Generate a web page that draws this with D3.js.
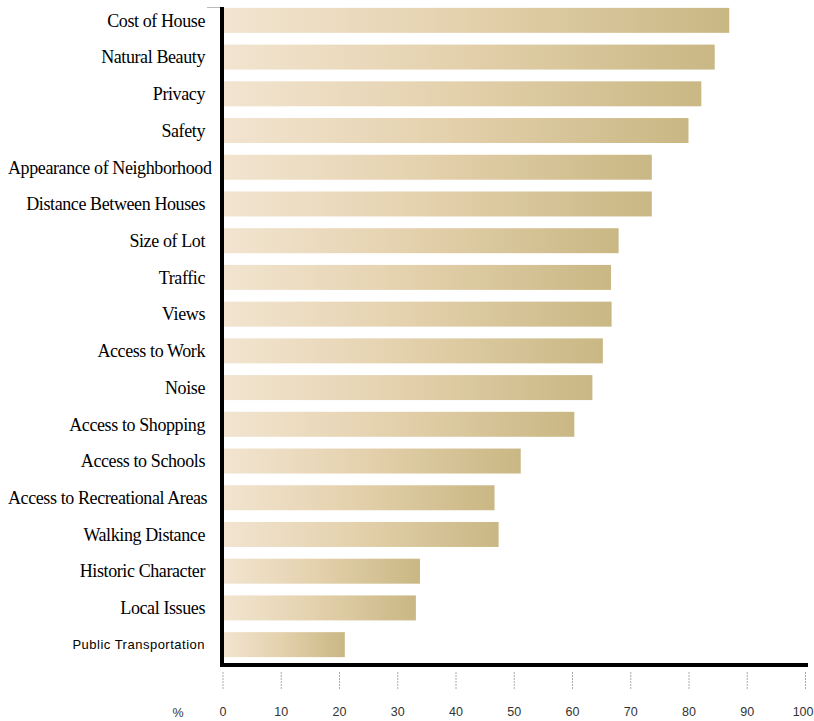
<!DOCTYPE html>
<html><head><meta charset="utf-8">
<script src="https://cdn.jsdelivr.net/npm/d3@7"></script>
<style>body{margin:0;background:#fff}</style>
</head><body>
<svg id="c" width="814" height="721"></svg>
<script>
const categories = ["Cost of House","Natural Beauty","Privacy","Safety","Appearance of Neighborhood","Distance Between Houses","Size of Lot","Traffic","Views","Access to Work","Noise","Access to Shopping","Access to Schools","Access to Recreational Areas","Walking Distance","Historic Character","Local Issues","Public Transportation"];
const values = [87, 84.5, 82.2, 80, 73.7, 73.7, 68, 66.7, 66.8, 65.3, 63.5, 60.4, 51.2, 46.7, 47.4, 33.9, 33.2, 21];
const ticks = [0,10,20,30,40,50,60,70,80,90,100];

const svg = d3.select("#c");
const x = d3.scaleLinear().domain([0,100]).range([222.5, 805]);
const y = d3.scaleBand().domain(categories).range([2, 663]).paddingInner(0.32).paddingOuter(0.16);

const defs = svg.append("defs");
const g = defs.append("linearGradient").attr("id","bg").attr("x1","0").attr("x2","1").attr("y1","0").attr("y2","0");
g.append("stop").attr("offset","0").attr("stop-color","#f2e4d0");
g.append("stop").attr("offset","0.5").attr("stop-color","#e3d0ab");
g.append("stop").attr("offset","1").attr("stop-color","#c9b784");
defs.append("clipPath").attr("id","lc").append("rect").attr("x",0).attr("y",0).attr("width",219).attr("height",721);

svg.selectAll("rect.bar").data(categories).join("rect").attr("class","bar")
  .attr("x", x(0)+1).attr("y", d=>y(d)).attr("height", y.bandwidth())
  .attr("width", (d,i)=>x(values[i])-x(0)-1).attr("fill","url(#bg)");

// labels
const isSans = d => d==="Public Transportation";
const lg = svg.append("g").attr("clip-path","url(#lc)");
lg.selectAll("text").data(categories).join("text")
  .attr("x",205).attr("y", d=>y(d)+y.bandwidth()/2).attr("dy","0.35em")
  .attr("text-anchor","end")
  .style("font-family", d=> isSans(d) ? "'Liberation Sans', Arial, sans-serif" : "'Liberation Serif','Times New Roman',serif")
  .style("font-size", d=> isSans(d) ? "13px" : "18px")
  .style("letter-spacing", d=> isSans(d) ? "0.5px" : "-0.4px")
  .attr("fill","#000")
  .text(d=>d)
  .each(function(){
    const w = this.getComputedTextLength();
    if (w > 199) d3.select(this).attr("text-anchor","start").attr("x", 8);
  });

// axes lines
svg.append("line").attr("x1",207).attr("x2",221).attr("y1",7.5).attr("y2",7.5).attr("stroke","#bbb").attr("stroke-width",1);
svg.append("line").attr("x1",222).attr("x2",222).attr("y1",7).attr("y2",667).attr("stroke","#000").attr("stroke-width",4);
svg.append("line").attr("x1",220).attr("x2",808).attr("y1",665).attr("y2",665).attr("stroke","#000").attr("stroke-width",4);

// x axis ticks & labels
const ax = svg.append("g").attr("transform","translate(0,672)").call(
  d3.axisBottom(x).tickValues(ticks).tickSize(18).tickFormat(d3.format("d")).tickPadding(18));
ax.select(".domain").remove();
ax.selectAll(".tick line").attr("stroke","#aaa").attr("stroke-dasharray","2,1");
ax.selectAll(".tick text").attr("dy","0.6em").style("font-family","'Liberation Sans', Arial, sans-serif").style("font-size","12.5px").attr("fill","#333");
ax.selectAll(".tick").filter(d=>d===100).select("text").attr("text-anchor","end").attr("dx","8");
svg.append("text").attr("x",178).attr("y",717).attr("text-anchor","middle")
  .style("font-family","'Liberation Sans', Arial, sans-serif").style("font-size","12.5px").attr("fill","#333").text("%");
</script>
</body></html>
